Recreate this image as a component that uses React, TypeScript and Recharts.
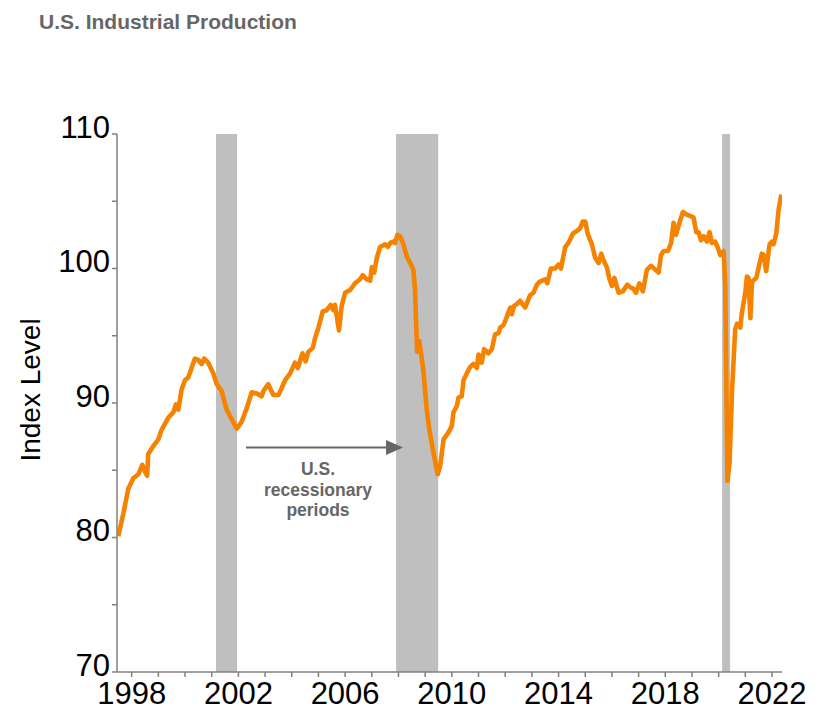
import { Line, LineChart, ReferenceArea, XAxis, YAxis } from "recharts";

// monthly-ish readings of the industrial production index (2017 = 100)
const years = [
  1997.5, 1997.69, 1997.87, 1998.06, 1998.25, 1998.4, 1998.5, 1998.58, 1998.62, 1998.81,
  1999.0, 1999.12, 1999.37, 1999.56, 1999.66, 1999.75, 1999.87, 2000.0, 2000.12, 2000.37,
  2000.5, 2000.62, 2000.72, 2000.87, 2001.06, 2001.19, 2001.37, 2001.56, 2001.75, 2001.94,
  2002.12, 2002.31, 2002.5, 2002.69, 2002.87, 2002.94, 2003.12, 2003.31, 2003.5, 2003.62,
  2003.75, 2003.94, 2004.12, 2004.23, 2004.4, 2004.52, 2004.62, 2004.79, 2004.87, 2005.0,
  2005.16, 2005.31, 2005.46, 2005.56, 2005.62, 2005.77, 2005.87, 2006.0, 2006.19, 2006.37,
  2006.56, 2006.66, 2006.81, 2006.94, 2007.0, 2007.09, 2007.19, 2007.31, 2007.5, 2007.6,
  2007.69, 2007.81, 2007.87, 2007.96, 2008.06, 2008.19, 2008.31, 2008.44, 2008.56, 2008.62,
  2008.7, 2008.78, 2008.93, 2009.06, 2009.16, 2009.31, 2009.47, 2009.56, 2009.69, 2009.87,
  2010.0, 2010.06, 2010.19, 2010.25, 2010.37, 2010.44, 2010.56, 2010.69, 2010.81, 2010.94,
  2011.0, 2011.12, 2011.21, 2011.37, 2011.5, 2011.62, 2011.75, 2011.81, 2011.94, 2012.06,
  2012.19, 2012.25, 2012.33, 2012.46, 2012.56, 2012.75, 2012.87, 2012.93, 2013.06, 2013.19,
  2013.28, 2013.5, 2013.58, 2013.71, 2013.87, 2014.0, 2014.09, 2014.25, 2014.37, 2014.54,
  2014.69, 2014.81, 2014.91, 2015.0, 2015.09, 2015.25, 2015.37, 2015.5, 2015.6, 2015.69,
  2015.81, 2015.91, 2016.0, 2016.09, 2016.25, 2016.41, 2016.58, 2016.69, 2016.8, 2016.9,
  2017.03, 2017.16, 2017.31, 2017.46, 2017.58, 2017.75, 2017.84, 2017.94, 2018.1, 2018.22,
  2018.31, 2018.4, 2018.53, 2018.66, 2018.81, 2019.06, 2019.16, 2019.25, 2019.34, 2019.44,
  2019.56, 2019.66, 2019.75, 2019.87, 2019.96, 2020.06, 2020.19, 2020.25, 2020.33, 2020.41,
  2020.5, 2020.62, 2020.69, 2020.81, 2020.87, 2021.0, 2021.06, 2021.12, 2021.19, 2021.25,
  2021.41, 2021.56, 2021.62, 2021.69, 2021.78, 2021.91, 2022.0, 2022.06, 2022.16, 2022.25,
  2022.35,
];

const ipIndex = [
  80.1, 81.8, 83.6, 84.4, 84.7, 85.4, 84.9, 84.6, 86.2, 86.8,
  87.3, 88.0, 88.9, 89.3, 89.9, 89.5, 91.0, 91.7, 91.9, 93.3,
  93.2, 92.9, 93.3, 93.0, 92.2, 91.4, 90.9, 89.5, 88.8, 88.1,
  88.6, 89.6, 90.8, 90.7, 90.5, 90.9, 91.4, 90.6, 90.6, 91.1,
  91.7, 92.2, 93.0, 92.6, 93.7, 93.1, 93.8, 94.1, 94.8, 95.6,
  96.8, 96.9, 97.3, 96.9, 97.3, 95.4, 97.2, 98.2, 98.4, 98.9,
  99.2, 99.5, 99.2, 99.1, 100.1, 99.7, 100.8, 101.6, 101.8, 101.6,
  101.9, 102.0, 101.9, 102.5, 102.4, 101.8, 100.9, 100.4, 99.9, 98.4,
  93.8, 94.6, 92.5, 89.5, 88.0, 86.3, 84.7, 85.3, 87.3, 87.8,
  88.3, 89.3, 89.8, 90.4, 90.5, 91.7, 92.2, 92.7, 92.9, 92.6,
  93.6, 93.0, 94.0, 93.7, 94.0, 95.1, 95.2, 95.6, 95.8, 96.4,
  97.1, 96.6, 97.2, 97.4, 97.6, 97.1, 97.7, 98.0, 98.2, 98.8,
  99.0, 99.2, 98.9, 100.0, 100.0, 100.3, 100.0, 101.6, 101.9, 102.6,
  102.8, 103.0, 103.5, 103.5, 102.6, 101.8, 100.8, 100.4, 101.1, 100.6,
  100.1, 99.2, 98.7, 99.3, 98.2, 98.3, 98.8, 98.6, 98.5, 98.2,
  98.9, 98.3, 99.9, 100.2, 100.0, 99.7, 101.0, 101.3, 101.3, 101.9,
  103.4, 102.5, 103.4, 104.2, 104.0, 103.8, 102.7, 102.7, 102.1, 102.4,
  102.0, 102.7, 101.9, 102.0, 101.6, 101.0, 101.3, 98.7, 84.2, 85.6,
  90.8, 95.5, 95.9, 95.6, 96.7, 98.2, 99.4, 99.3, 96.3, 99.0,
  99.3, 100.6, 101.1, 101.0, 99.8, 101.8, 102.0, 101.8, 102.6, 104.4,
  105.5,
];

// NBER recessions
const recessionStarts = [2001.16, 2007.91, 2020.13];
const recessionEnds = [2001.95, 2009.49, 2020.43];

const yearTicks = Array.from({ length: 25 }, (_, i) => 1998 + i);
const labeledYears = [1998, 2002, 2006, 2010, 2014, 2018, 2022];
const valueTicks = [70, 75, 80, 85, 90, 95, 100, 105, 110];
const labeledValues = [70, 80, 90, 100, 110];

const data = years.map((year, i) => ({ year, value: ipIndex[i] }));

const FONT = "'Liberation Sans', Arial, sans-serif";
const AXIS = "#808080";
const ORANGE = "#F58300";
const NOTE = "#666666";

function YearTick(props: any) {
  const { x, y, payload } = props;
  if (!labeledYears.includes(payload.value)) return <g />;
  return (
    <text x={x} y={y + 25} textAnchor="middle" fontSize={31} fill="#000" fontFamily={FONT}>
      {payload.value}
    </text>
  );
}

function ValueTick(props: any) {
  const { x, y, payload } = props;
  if (!labeledValues.includes(payload.value)) return <g />;
  return (
    <text x={x} y={y + 3.5} textAnchor="end" fontSize={31} fill="#000" fontFamily={FONT}>
      {payload.value}
    </text>
  );
}

export default function App() {
  return (
    <div style={{ position: "absolute", left: 0, top: 0, width: 827, height: 713, background: "#fff" }}>
      <LineChart
        width={827}
        height={713}
        data={data}
        margin={{ top: 134, right: 45, bottom: 0, left: 0 }}
      >
        <XAxis
          dataKey="year"
          type="number"
          domain={[1997.45, 2022.375]}
          ticks={yearTicks}
          interval={0}
          height={41}
          tickSize={5}
          stroke={AXIS}
          strokeWidth={1.5}
          tick={<YearTick />}
          allowDataOverflow
        />
        <YAxis
          type="number"
          domain={[70, 110]}
          ticks={valueTicks}
          interval={0}
          width={117}
          tickSize={5}
          stroke={AXIS}
          strokeWidth={1.5}
          tick={<ValueTick />}
        />
        {recessionStarts.map((start, i) => (
          <ReferenceArea
            key={start}
            x1={start}
            x2={recessionEnds[i]}
            y1={70}
            y2={110}
            fill="#BFBFBF"
            fillOpacity={1}
            stroke="none"
          />
        ))}
        <Line
          type="linear"
          dataKey="value"
          stroke={ORANGE}
          strokeWidth={4.6}
          strokeLinejoin="round"
          dot={false}
          activeDot={false}
          isAnimationActive={false}
        />
      </LineChart>

      <svg
        width={827}
        height={713}
        style={{ position: "absolute", left: 0, top: 0, pointerEvents: "none" }}
        fontFamily={FONT}
      >
        <text x={39} y={29} fontSize={21} fontWeight="bold" fill={NOTE}>
          U.S. Industrial Production
        </text>
        <text
          x={40}
          y={390}
          fontSize={28}
          fill="#000"
          textAnchor="middle"
          transform="rotate(-90, 40, 390)"
        >
          Index Level
        </text>
        <line x1={246} y1={447.5} x2={388} y2={447.5} stroke="#666" strokeWidth={2.2} />
        <polygon points="386,440 403,447.5 386,455" fill="#666" />
        <g fontSize={17.5} fontWeight="bold" fill={NOTE} textAnchor="middle">
          <text x={318} y={475}>U.S.</text>
          <text x={318} y={496}>recessionary</text>
          <text x={318} y={516}>periods</text>
        </g>
      </svg>
    </div>
  );
}
